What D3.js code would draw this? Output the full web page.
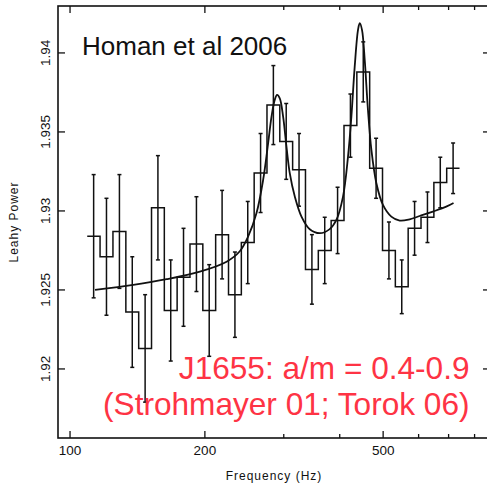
<!DOCTYPE html>
<html>
<head>
<meta charset="utf-8">
<script src="https://cdn.jsdelivr.net/npm/d3@7/dist/d3.min.js"></script>
<style>
  html, body { margin: 0; padding: 0; background: #fff; }
  svg { display: block; }
  text { font-family: "Liberation Sans", Arial, Helvetica, sans-serif; }
</style>
</head>
<body>
<svg id="chart" width="487" height="485"></svg>
<script>
// Binned Leahy power (log-spaced bins)
const binFreq = [112.9, 120.6, 128.9, 137.7, 147.1, 157.1, 167.8, 179.2, 191.5, 204.5,
  218.5, 233.4, 249.3, 266.3, 284.4, 303.8, 324.5, 346.7, 370.3, 395.6,
  422.6, 451.4, 482.2, 515.1, 550.2, 587.7, 627.9, 670.7, 716.4];
const binPower = [1.9284, 1.9271, 1.9287, 1.9236, 1.9213, 1.9302, 1.9237, 1.9258, 1.9279, 1.9237,
  1.9285, 1.9247, 1.9280, 1.9324, 1.9367, 1.9344, 1.9326, 1.9263, 1.9275, 1.9294,
  1.9354, 1.9388, 1.9327, 1.9275, 1.9252, 1.9289, 1.9296, 1.9318, 1.9327];
const binErr = [0.0039, 0.0037, 0.0036, 0.0035, 0.0034, 0.0033, 0.0032, 0.0031, 0.0030, 0.0029,
  0.0028, 0.0027, 0.0026, 0.0025, 0.0025, 0.0024, 0.0023, 0.0022, 0.0021, 0.0021,
  0.0020, 0.0019, 0.0019, 0.0018, 0.0017, 0.0017, 0.0016, 0.0016, 0.0016];

// Fitted model (continuum + two QPOs), traced points
const modelFreq = [113.7, 138.4, 164.3, 194.9, 223.6, 239.3, 249.7, 260.7, 269.8, 276.8,
  281.7, 286.4, 289.9, 293.9, 299.0, 304.2, 309.4, 317.5, 328.6, 342.9,
  361.0, 379.9, 393.2, 406.8, 417.4, 424.7, 432.0, 439.4, 443.3, 448.5,
  454.8, 462.5, 470.7, 482.9, 499.5, 521.5, 544.4, 573.0, 603.2, 645.7,
  691.6, 718.0];
const modelPower = [1.92500, 1.92532, 1.92568, 1.92616, 1.92679, 1.92745, 1.92837, 1.92985, 1.93196, 1.93428,
  1.93597, 1.93703, 1.93734, 1.93713, 1.93597, 1.93407, 1.93239, 1.93091, 1.92964, 1.92884,
  1.92859, 1.92885, 1.92943, 1.93091, 1.93344, 1.93597, 1.93913, 1.94146, 1.94188, 1.94146,
  1.93956, 1.93639, 1.93386, 1.93175, 1.93038, 1.92964, 1.92939, 1.92947, 1.92968, 1.92996,
  1.93027, 1.93050];

const xMajor = [100, 200, 500];
const xMinor = [300, 400, 600, 700, 800];
const yMajor = [1.92, 1.925, 1.93, 1.935, 1.94];
const yLabels = ['1.92', '1.925', '1.93', '1.935', '1.94'];

const svg = d3.select('#chart');

const plotL = 58, plotR = 490, plotT = 6, plotB = 438;

const x = d3.scaleLog().domain([94, 866]).range([plotL, plotR]);
const y = d3.scaleLinear().domain([1.91563, 1.94297]).range([plotB, plotT]);

const ink = '#111';

// frame
svg.append('rect')
  .attr('x', plotL).attr('y', plotT)
  .attr('width', plotR - plotL).attr('height', plotB - plotT)
  .attr('fill', 'none').attr('stroke', ink).attr('stroke-width', 1.6);

// ticks, all pointing inward
const ticks = svg.append('g').attr('stroke', ink).attr('stroke-width', 1.3);
xMajor.forEach(v => {
  ticks.append('line').attr('x1', x(v)).attr('x2', x(v)).attr('y1', plotB).attr('y2', plotB - 7);
  ticks.append('line').attr('x1', x(v)).attr('x2', x(v)).attr('y1', plotT).attr('y2', plotT + 7);
});
xMinor.forEach(v => {
  ticks.append('line').attr('x1', x(v)).attr('x2', x(v)).attr('y1', plotB).attr('y2', plotB - 4);
  ticks.append('line').attr('x1', x(v)).attr('x2', x(v)).attr('y1', plotT).attr('y2', plotT + 4);
});
yMajor.forEach(v => {
  ticks.append('line').attr('x1', plotL).attr('x2', plotL + 7).attr('y1', y(v)).attr('y2', y(v));
  ticks.append('line').attr('x1', plotR).attr('x2', plotR - 7).attr('y1', y(v)).attr('y2', y(v));
});

// tick labels
svg.append('g').selectAll('text')
  .data(xMajor)
  .join('text')
  .attr('x', d => x(d))
  .attr('y', 455)
  .attr('text-anchor', 'middle')
  .attr('font-size', '13.5px')
  .attr('fill', ink)
  .text(d => d);

svg.append('g').selectAll('text')
  .data(yMajor)
  .join('text')
  .attr('transform', d => `translate(50,${y(d)}) rotate(-90)`)
  .attr('text-anchor', 'middle')
  .attr('font-size', '13.5px')
  .attr('fill', ink)
  .text((d, i) => yLabels[i]);

// axis titles
svg.append('text')
  .attr('x', (plotL + plotR) / 2).attr('y', 480)
  .attr('text-anchor', 'middle')
  .attr('font-size', '12px')
  .attr('letter-spacing', '1px')
  .attr('fill', ink)
  .text('Frequency (Hz)');

svg.append('text')
  .attr('transform', `translate(18,${(plotT + plotB) / 2}) rotate(-90)`)
  .attr('text-anchor', 'middle')
  .attr('font-size', '12px')
  .attr('letter-spacing', '1px')
  .attr('fill', ink)
  .text('Leahy Power');

// histogram steps: edges halfway between bin centres (in log space)
const cx = binFreq.map(f => x(f));
const edges = [];
edges.push(cx[0] - (cx[1] - cx[0]) / 2);
for (let i = 0; i < cx.length - 1; i++) edges.push((cx[i] + cx[i + 1]) / 2);
edges.push(cx[cx.length - 1] + (cx[cx.length - 1] - cx[cx.length - 2]) / 2);

const stepPts = [];
binPower.forEach((p, i) => {
  stepPts.push([edges[i], y(p)]);
  stepPts.push([edges[i + 1], y(p)]);
});

svg.append('path')
  .attr('d', d3.line()(stepPts))
  .attr('fill', 'none')
  .attr('stroke', ink)
  .attr('stroke-width', 1.5);

// error bars
const errG = svg.append('g').attr('stroke', ink).attr('stroke-width', 1.5);
binPower.forEach((p, i) => {
  const xc = cx[i];
  const y0 = y(p - binErr[i]), y1 = y(p + binErr[i]);
  errG.append('line').attr('x1', xc).attr('x2', xc).attr('y1', y0).attr('y2', y1);
  errG.append('line').attr('x1', xc - 2).attr('x2', xc + 2).attr('y1', y0).attr('y2', y0);
  errG.append('line').attr('x1', xc - 2).attr('x2', xc + 2).attr('y1', y1).attr('y2', y1);
});

// model curve
const model = modelFreq.map((f, i) => [x(f), y(modelPower[i])]);
svg.append('path')
  .attr('d', d3.line().curve(d3.curveCatmullRom.alpha(0.5))(model))
  .attr('fill', 'none')
  .attr('stroke', ink)
  .attr('stroke-width', 1.8);

// annotations
svg.append('text')
  .attr('x', 82).attr('y', 55)
  .attr('font-size', '26px')
  .attr('fill', ink)
  .text('Homan et al 2006');

const red = '#fe3344';
svg.append('text')
  .attr('x', 469.5).attr('y', 379)
  .attr('text-anchor', 'end')
  .attr('font-size', '31.6px')
  .attr('fill', red)
  .text('J1655: a/m = 0.4-0.9');
svg.append('text')
  .attr('x', 469.5).attr('y', 415)
  .attr('text-anchor', 'end')
  .attr('font-size', '31.6px')
  .attr('fill', red)
  .text('(Strohmayer 01; Torok 06)');
</script>
</body>
</html>
